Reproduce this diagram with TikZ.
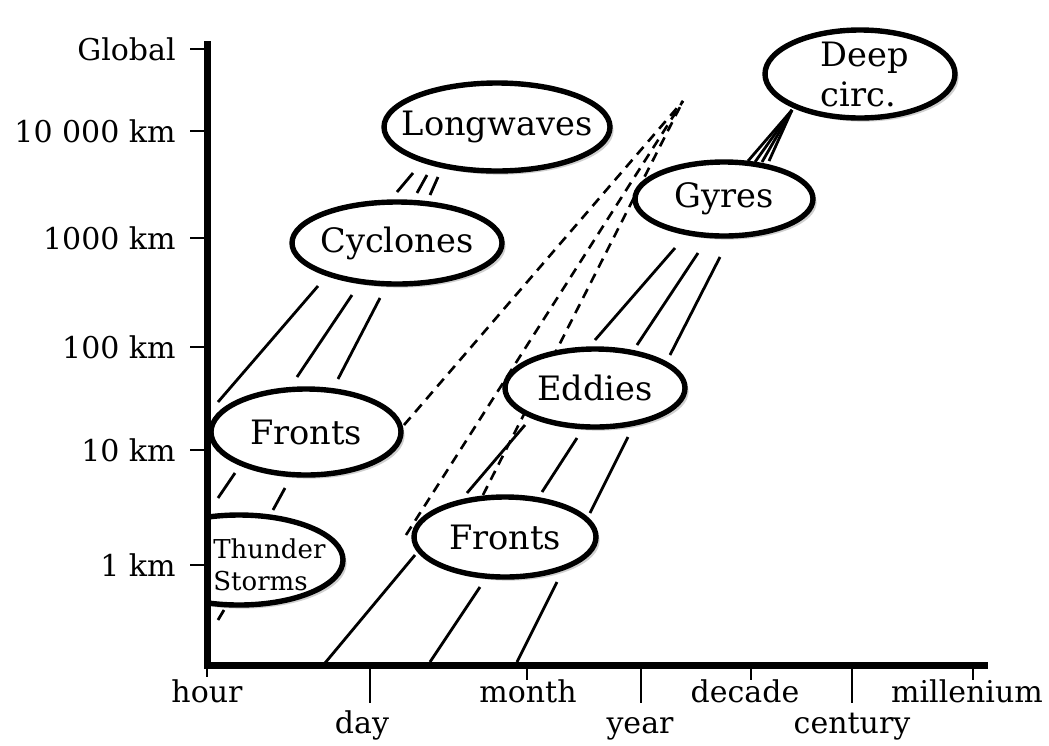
\documentclass[tikz,border=0pt]{standalone}
\usepackage{fontspec}
\setmainfont{DejaVu Serif}
\usetikzlibrary{shapes.geometric,shadows}

\begin{document}
\begin{tikzpicture}[
    x=0.5pt, y=-0.5pt,
    blob/.style={ellipse, draw, line width=2.7pt, fill=white, inner sep=0pt,
      drop shadow={shadow xshift=1.8pt, shadow yshift=-1.8pt, fill=gray!75}},
    blobtext/.style={font=\fontsize{16.8}{20}\selectfont, inner sep=0pt},
    scalelabel/.style={font=\fontsize{15}{18}\selectfont, inner sep=0pt},
    band/.style={line width=1.4pt},
    guess/.style={line width=1.3pt, dash pattern=on 5pt off 3.5pt},
    axis/.style={line width=3.5pt, line join=miter},
  line cap=butt]
  \useasboundingbox (0,0) rectangle (1049,745);

  % band edges
  \foreach \ax/\ay/\bx/\by in {
      397/192/413/173, 417/193/427/175, 430/195/438/177,
      218/402/318/286, 297/377/352/295, 338/379/380/298,
      218/498/235/473, 273/510/285/488, 218/620/224/610,
      325/663/415/555, 430/662/480/587, 517/662/557/582,
      467/493/525/425, 542/492/577/438, 590/513/628/437,
      595/340/675/248, 637/345/698/253, 670/355/720/257}
    \draw[band] (\ax,\ay) -- (\bx,\by);

  \coordinate (deepfoot) at (792,110);
  \foreach \ax/\ay in {748/161, 755/162, 762/162, 769/161}
    \draw[band] (\ax,\ay) -- (deepfoot);

  \coordinate (apex) at (683,101);
  \foreach \ax/\ay in {404/425, 406/535, 483/495}
    \draw[guess] (\ax,\ay) -- (apex);

  % the scales
  \node[blob, minimum width=113pt, minimum height=44pt,
    label={[blobtext]center:Longwaves}] (longwaves) at (497,127) {};
  \node[blob, minimum width=105pt, minimum height=41pt,
    label={[blobtext]center:Cyclones}] (cyclones) at (397,243) {};
  \node[blob, minimum width=95pt, minimum height=43pt,
    label={[blobtext]center:Fronts}] (afronts) at (306,432) {};
  \node[blob, minimum width=91pt, minimum height=40pt,
    label={[blobtext]center:Fronts}] (ofronts) at (505,537) {};
  \node[blob, minimum width=90pt, minimum height=39pt,
    label={[blobtext]center:Eddies}] (eddies) at (595,388) {};
  \node[blob, minimum width=89pt, minimum height=37pt,
    label={[blobtext]center:Gyres}] (gyres) at (724,199) {};
  \node[blob, minimum width=95pt, minimum height=44pt,
    label={[blobtext, align=left, xshift=2.5pt]center:{Deep\\circ.}}] (deep) at (860,74) {};
  \begin{scope}
    \clip (207,0) rectangle (1049,745);
    \node[blob, minimum width=104pt, minimum height=45pt] (thunder) at (239,560) {};
  \end{scope}
  \node[anchor=west, align=left, inner sep=0pt, font=\fontsize{13}{16}\selectfont]
    (thundertxt) at (213,565) {Thunder\\Storms};

  % axes
  \draw[axis] (207,41) -- (207,665) -- (988,665);
  \foreach \y/\t in {49/Global, 131/10 000 km, 238/1000 km, 347/100 km, 450/10 km, 565/1 km}{
    \draw[line width=1pt] (190,\y) -- (207,\y);
    \node[scalelabel, anchor=east] (s\y) at (176,\y) {\t};
  }
  \foreach \x/\l/\cx/\b/\t in {207/677/207/702/hour, 370/703/362/733/day,
      527/680/528/702/month, 641/703/640/733/year, 751/680/745/702/decade,
      852/703/852/733/century, 973/680/967/702/millenium}{
    \draw[line width=1pt] (\x,665) -- (\x,\l);
    \node[scalelabel, anchor=base] (t\x) at (\cx,\b) {\t};
  }
\end{tikzpicture}
\end{document}
